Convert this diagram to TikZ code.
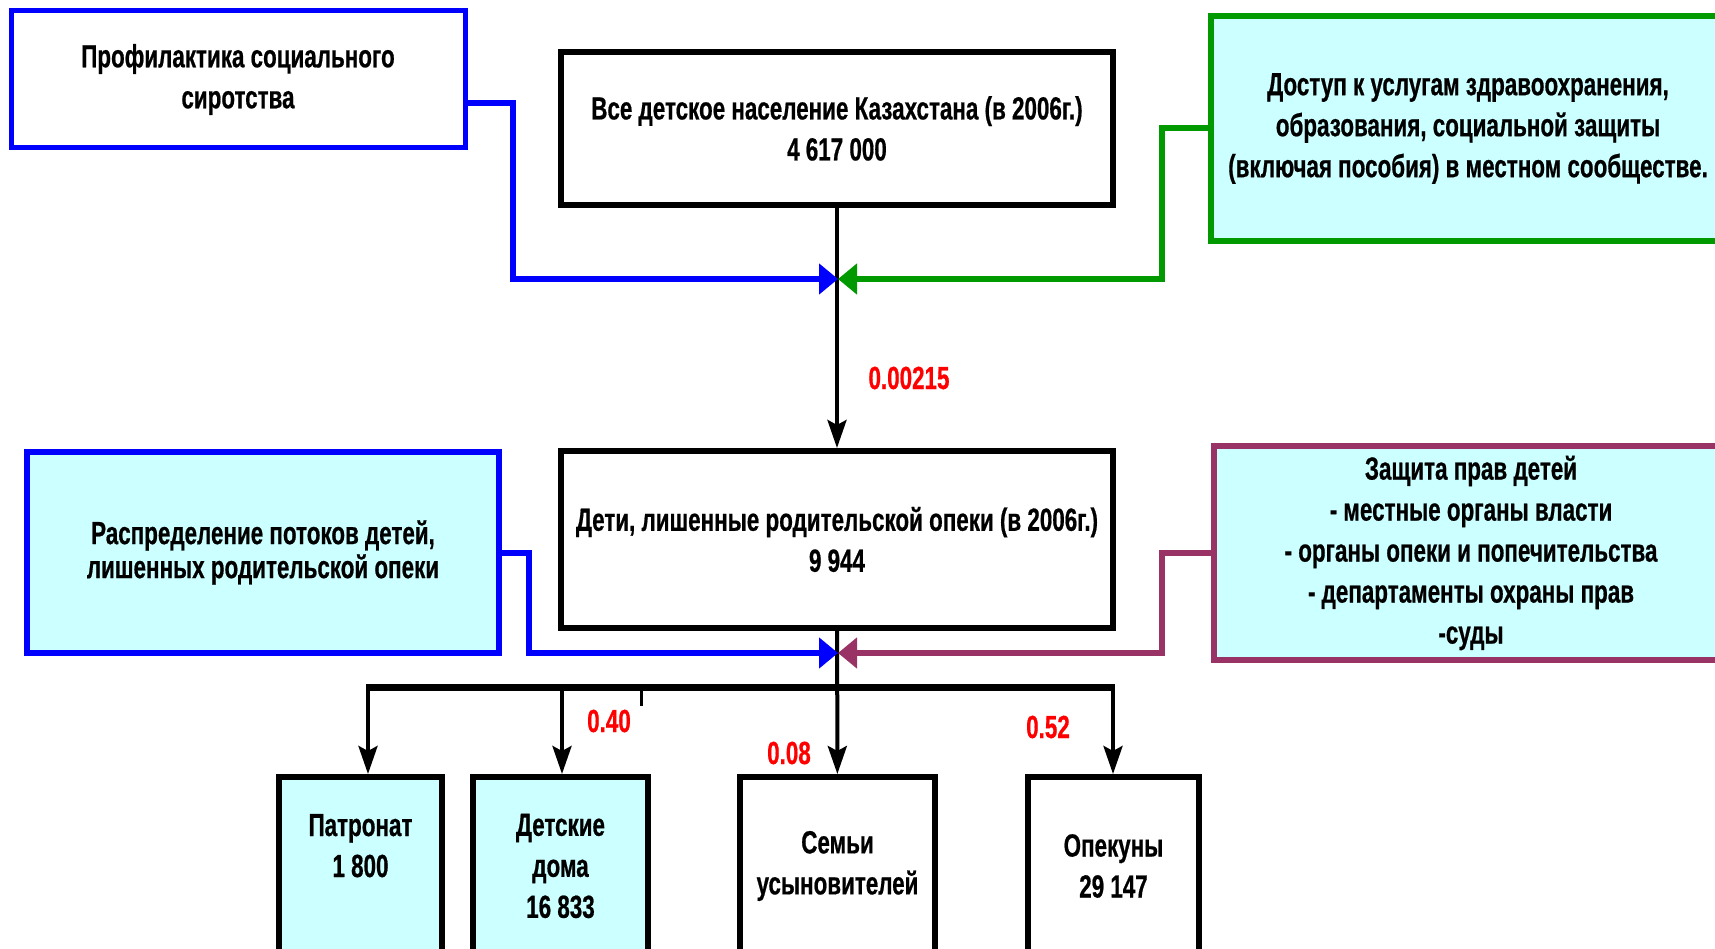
\documentclass[tikz,border=0pt]{standalone}
\usepackage{fontspec}
\newfontfamily\narrowfont{Liberation Sans}[FakeStretch=0.70, FakeBold=0.6]
\usetikzlibrary{arrows.meta}

\definecolor{lightcyan}{HTML}{CCFFFF}
\definecolor{linkblue}{HTML}{0000FF}
\definecolor{linkgreen}{HTML}{009900}
\definecolor{linkplum}{HTML}{993366}
\definecolor{ratered}{HTML}{FF0000}

\tikzset{
  flow/.style={line width=4pt, -{Stealth[length=28pt,width=19pt,inset=5pt]}},
  side/.style={line width=6pt, -{Triangle[length=19pt,width=30pt]}},
  rate/.style={text=ratered},
}

\begin{document}
\begin{tikzpicture}[x=1pt,y=-1pt,
  every node/.style={font=\narrowfont\bfseries\fontsize{32}{41}\selectfont, align=center}]

  \useasboundingbox (0,0) rectangle (1715,949);
  \clip (0,0) rectangle (1715,949);

  \begin{scope}[every node/.append style={rectangle, draw, line width=6pt, inner sep=0pt}]
    \node (all)  at (837,128.5) [minimum width=552, minimum height=153] {Все детское население Казахстана (в 2006г.)\\4 617 000};
    \node (lost) at (837,539.5) [minimum width=552, minimum height=177] {Дети, лишенные родительской опеки (в 2006г.)\\9 944};
    \node (prev) at (238,79.5) [draw=linkblue, line width=5pt, minimum width=454, minimum height=137] {Профилактика социального\\сиротства};
    \node (access) at (1468,128.5) [draw=linkgreen, fill=lightcyan, minimum width=514, minimum height=225] {Доступ к услугам здравоохранения,\\образования, социальной защиты\\(включая пособия) в местном сообществе.};
    \node (distr) at (263,552.5) [draw=linkblue, fill=lightcyan, minimum width=472, minimum height=201,
      font=\narrowfont\bfseries\fontsize{32}{34}\selectfont] {Распределение потоков детей,\\лишенных родительской опеки};
    \node (rights) at (1471,553) [draw=linkplum, fill=lightcyan, minimum width=514, minimum height=214] {Защита прав детей\\- местные органы власти\\- органы опеки и попечительства\\- департаменты охраны прав\\-суды};
  \end{scope}

  \begin{scope}[every node/.append style={rectangle, draw, line width=6pt, inner sep=0pt, minimum height=178}]
    \node (patr)  at (360.5,866)  [fill=lightcyan, minimum width=163] {Патронат\\1 800\\~};
    \node (homes) at (560.5,866)  [fill=lightcyan, minimum width=175] {Детские\\дома\\16 833};
    \node (adopt) at (837.5,866)  [minimum width=195] {Семьи\\усыновителей};
    \node (guard) at (1113.5,866) [minimum width=171] {Опекуны\\29 147};
  \end{scope}

  \coordinate (j1) at (838,279);
  \coordinate (j2) at (838,653);
  \coordinate (b1) at (368,687);
  \coordinate (b2) at (562,687);
  \coordinate (b4) at (1113,687);
  \coordinate (tick) at (641,706);

  \draw[flow] (all) -- (lost);
  \draw[flow] (lost) -- (adopt);
  \draw[line width=7pt] ([xshift=-2pt]b1) -- ([xshift=2pt]b4);
  \draw[line width=3pt] (b1 -| tick) -- (tick);
  \draw[flow] (b1) -- (b1 |- patr.north);
  \draw[flow] (b2) -- (b2 |- homes.north);
  \draw[flow] (b4) -- (b4 |- guard.north);

  \draw[side, linkblue] ([yshift=-24pt]prev.east) -| (513,279) -- (j1);
  \draw[side, linkgreen] (access.west) -| (1162,279) -- (j1);
  \draw[side, linkblue] (distr.east) -| (529,653) -- (j2);
  \draw[side, linkplum] (rights.west) -| (1162,653) -- (j2);

  \node[rate] (r1) at (909,378) {0.00215};
  \node[rate] (r2) at (609,721) {0.40};
  \node[rate] (r3) at (789,753) {0.08};
  \node[rate] (r4) at (1048,727) {0.52};

\end{tikzpicture}
\end{document}
